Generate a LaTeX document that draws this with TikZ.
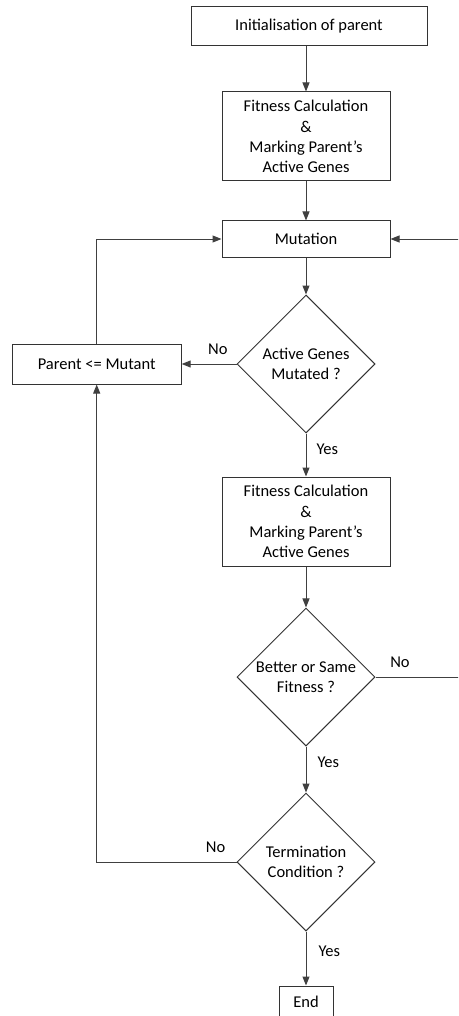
\documentclass[tikz,border=0pt]{standalone}
\usepackage{fontspec}
\setmainfont{Carlito}
\usetikzlibrary{shapes.geometric,arrows.meta}
\begin{document}
\begin{tikzpicture}[x=1pt,y=-1pt,
  font=\fontsize{16.5}{20.3}\selectfont,
  line width=1pt,
  procbox/.style={draw=black!80, rectangle, align=center, inner sep=0pt},
  decide/.style={draw=black!80, diamond, align=center, inner sep=0pt, minimum width=138pt, minimum height=138pt},
  flow/.style={draw=black!75, -{Triangle[length=9pt,width=7pt]}},
  lbl/.style={font=\fontsize{16.5}{18}\selectfont, inner sep=1pt}
]
\useasboundingbox (0,0) rectangle (458,1016);
\clip (0,0) rectangle (458,1016);

% process boxes
\node[procbox, minimum width=236pt, minimum height=39pt] (init) at (309,26.5) {Initialisation of parent};
\node[procbox, minimum width=168pt, minimum height=89pt] (fit1) at (306,136.5) {Fitness Calculation\\\&\\Marking Parent’s\\Active Genes};
\node[procbox, minimum width=168pt, minimum height=36pt] (mut) at (306,239) {Mutation};
\node[decide] (d1) at (306,364) {Active Genes\\Mutated ?};
\node[procbox, minimum width=169pt, minimum height=40pt] (par) at (96.7,364) {Parent <= Mutant};
\node[procbox, minimum width=168pt, minimum height=89pt] (fit2) at (306,521.5) {Fitness Calculation\\\&\\Marking Parent’s\\Active Genes};
\node[decide] (d2) at (306,677) {Better or Same\\Fitness ?};
\node[decide] (d3) at (306,862) {Termination\\Condition ?};
\node[procbox, minimum width=54pt, minimum height=32pt] (endn) at (306,1002) {End};

% free ends of the loops
\coordinate (rtop) at (460,239);
\coordinate (rbot) at (460,677);
\coordinate (ltop) at (96.7,239);
\coordinate (lbot) at (96.7,862);

% main flow
\draw[flow] (init.south -| fit1.north) -- (fit1.north);
\draw[flow] (fit1) -- (mut);
\draw[flow] (mut) -- (d1);
\draw[flow] (d1) -- node[lbl, right=9pt, pos=0.36] {Yes} (fit2);
\draw[flow] (fit2) -- (d2);
\draw[flow] (d2) -- node[lbl, right=10pt, pos=0.34] {Yes} (d3);
\draw[flow] (d3) -- node[lbl, right=11pt, pos=0.36] {Yes} (endn);

% branches
\draw[flow] (d1.west) -- node[lbl, above=8pt, pos=0.34] {No} (par.east);
\draw[flow] (par.north) -- (ltop) -- (mut.west);
\draw[flow] (d3.west) -- node[lbl, above=8pt, pos=0.15] {No} (lbot) -- (par.south);
\draw[flow] (d2.east) -- node[lbl, above=8pt, pos=0.29] {No} (rbot) -- (rtop) -- (mut.east);
\end{tikzpicture}
\end{document}
